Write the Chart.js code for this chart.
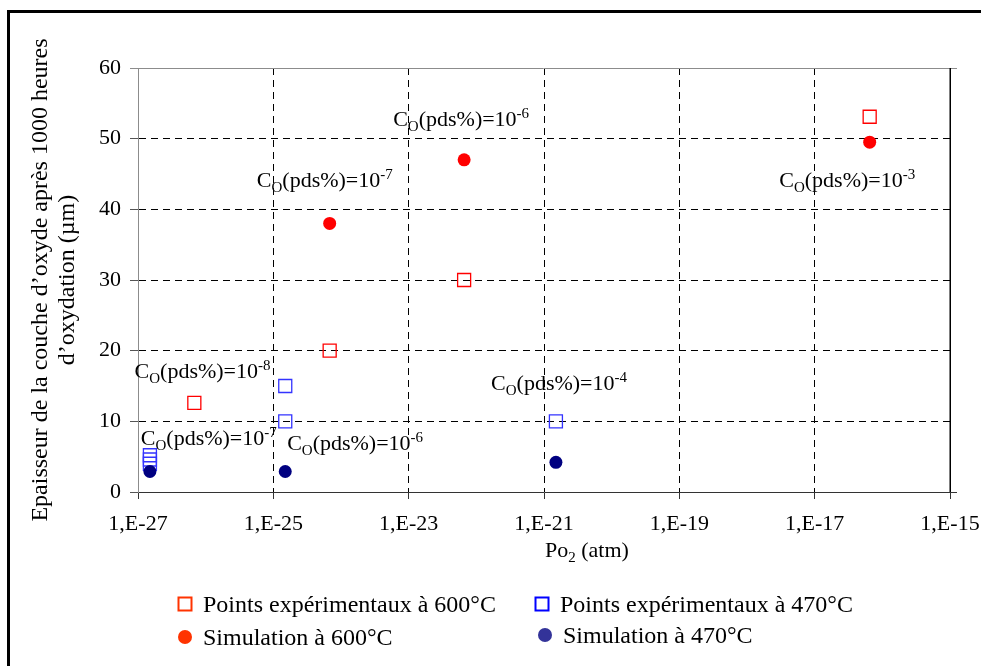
<!DOCTYPE html>
<html>
<head>
<meta charset="utf-8">
<script src="https://cdn.jsdelivr.net/npm/chart.js@4.4.0/dist/chart.umd.min.js"></script>
<style>
  html, body { margin: 0; padding: 0; background: #fff; }
</style>
</head>
<body>
<canvas id="chart" width="981" height="666"></canvas>
<script>
/* ---------- data ---------- */

// x ticks of the log axis (Po2, atm)
const xTicks = [1e-27, 1e-25, 1e-23, 1e-21, 1e-19, 1e-17, 1e-15];

// experimental points at 600 °C
const exp600X = [6.8e-27, 6.8e-25, 6.6e-23, 6.5e-17];
const exp600Y = [12.6, 20, 30, 53.1];

// simulation at 600 °C
const sim600X = [6.8e-25, 6.6e-23, 6.5e-17];
const sim600Y = [38, 47, 49.5];

// experimental points at 470 °C
const exp470X = [1.5e-27, 1.5e-27, 1.5e-27, 1.5e-25, 1.5e-25, 1.5e-21];
const exp470Y = [5.2, 4.6, 4.0, 15, 10, 10];

// simulation at 470 °C
const sim470X = [1.5e-27, 1.5e-25, 1.5e-21];
const sim470Y = [2.9, 2.9, 4.2];

// oxygen content labels: left edge / baseline in data units, exponent
const noteX = [8.9e-28, 1.1e-27, 1.6e-25, 1.65e-22, 5.7e-26, 5.9e-24, 3.0e-18];
const noteY = [16.2, 6.7, 6.0, 14.5, 43.1, 51.8, 43.2];
const noteExp = ['-8', '-7', '-6', '-4', '-7', '-6', '-3'];

/* ---------- helpers ---------- */

const SERIF = '"Liberation Serif", "Times New Roman", serif';

function pts(xs, ys) {
  return xs.map((x, i) => ({ x: x, y: ys[i] }));
}

function drawNote(ctx, x, y, exp) {
  ctx.textAlign = 'left';
  ctx.textBaseline = 'alphabetic';
  ctx.fillStyle = '#000';
  ctx.font = '22px ' + SERIF;
  ctx.fillText('C', x, y);
  x += ctx.measureText('C').width;
  ctx.font = '15px ' + SERIF;
  ctx.fillText('O', x, y + 5);
  x += ctx.measureText('O').width;
  ctx.font = '22px ' + SERIF;
  ctx.fillText('(pds%)=10', x, y);
  x += ctx.measureText('(pds%)=10').width;
  ctx.font = '15px ' + SERIF;
  ctx.fillText(exp, x, y - 8);
}

/* ---------- extra drawing: frame, notes, titles, legend ---------- */

const decorPlugin = {
  id: 'decor',
  afterDraw(chart) {
    const ctx = chart.ctx;
    const a = chart.chartArea;
    const xs = chart.scales.x;
    const ys = chart.scales.y;

    ctx.save();

    // outer frame
    ctx.fillStyle = '#000';
    ctx.fillRect(7, 10, 3, 660);
    ctx.fillRect(7, 10, 980, 3);

    // plot box: gray top, black right
    ctx.lineWidth = 1;
    ctx.strokeStyle = '#8c8c8c';
    ctx.beginPath();
    ctx.moveTo(a.left - 8, Math.round(a.top) + 0.5);
    ctx.lineTo(a.right + 7, Math.round(a.top) + 0.5);
    ctx.stroke();
    ctx.strokeStyle = '#000';
    ctx.lineWidth = 1.5;
    ctx.beginPath();
    ctx.moveTo(Math.round(a.right) + 0.25, a.top);
    ctx.lineTo(Math.round(a.right) + 0.25, a.bottom);
    ctx.stroke();
    ctx.lineWidth = 1;
    ctx.strokeStyle = '#333';
    ctx.beginPath();
    ctx.moveTo(a.right, Math.round(a.bottom) + 0.5);
    ctx.lineTo(a.right + 7, Math.round(a.bottom) + 0.5);
    ctx.stroke();

    // oxygen content notes
    noteX.forEach((nx, i) => {
      drawNote(ctx, xs.getPixelForValue(nx), ys.getPixelForValue(noteY[i]), noteExp[i]);
    });

    // x axis title: Po2 (atm)
    ctx.fillStyle = '#000';
    ctx.textBaseline = 'alphabetic';
    ctx.textAlign = 'left';
    ctx.font = '22px ' + SERIF;
    const wPo = ctx.measureText('Po').width;
    const tx = 545;
    const ty = 557;
    ctx.fillText('Po', tx, ty);
    ctx.font = '15px ' + SERIF;
    const w2 = ctx.measureText('2').width;
    ctx.fillText('2', tx + wPo, ty + 5);
    ctx.font = '22px ' + SERIF;
    ctx.fillText(' (atm)', tx + wPo + w2, ty);

    // y axis title (two lines, rotated)
    ctx.save();
    ctx.translate(0, (a.top + a.bottom) / 2);
    ctx.rotate(-Math.PI / 2);
    ctx.textAlign = 'center';
    ctx.textBaseline = 'middle';
    ctx.font = '24px ' + SERIF;
    ctx.fillText('Epaisseur de la couche d\u2019oxyde apr\u00e8s 1000 heures', 0, 41);
    ctx.fillText('d\u2019oxydation (\u00b5m)', 0, 68);
    ctx.restore();

    // legend
    const items = [
      { x: 185, y: 604, shape: 'square', color: '#ff3300', text: chart.data.datasets[0].label },
      { x: 542, y: 604, shape: 'square', color: '#0000ff', text: chart.data.datasets[2].label },
      { x: 185, y: 637, shape: 'circle', color: '#ff3300', text: chart.data.datasets[1].label },
      { x: 545, y: 635, shape: 'circle', color: '#333399', text: chart.data.datasets[3].label }
    ];
    items.forEach(it => {
      if (it.shape === 'square') {
        ctx.strokeStyle = it.color;
        ctx.lineWidth = 2;
        ctx.strokeRect(it.x - 6.5, it.y - 6.5, 13, 13);
      } else {
        ctx.fillStyle = it.color;
        ctx.beginPath();
        ctx.arc(it.x, it.y, 7, 0, Math.PI * 2);
        ctx.fill();
      }
      ctx.fillStyle = '#000';
      ctx.font = '24px ' + SERIF;
      ctx.textAlign = 'left';
      ctx.textBaseline = 'alphabetic';
      ctx.fillText(it.text, it.x + 18, it.y + 8);
    });

    ctx.restore();
  }
};

/* ---------- chart ---------- */

new Chart(document.getElementById('chart'), {
  type: 'scatter',
  data: {
    datasets: [
      {
        label: 'Points exp\u00e9rimentaux \u00e0 600\u00b0C',
        data: pts(exp600X, exp600Y),
        pointStyle: 'rect',
        radius: 9.2,
        borderColor: '#ff0000',
        backgroundColor: 'rgba(255,255,255,0)',
        borderWidth: 1.3,
        order: 2
      },
      {
        label: 'Simulation \u00e0 600\u00b0C',
        data: pts(sim600X, sim600Y),
        pointStyle: 'circle',
        radius: 6.5,
        borderWidth: 0,
        backgroundColor: '#ff0000',
        order: 1
      },
      {
        label: 'Points exp\u00e9rimentaux \u00e0 470\u00b0C',
        data: pts(exp470X, exp470Y),
        pointStyle: 'rect',
        radius: 9.2,
        borderColor: '#3333ff',
        backgroundColor: 'rgba(255,255,255,0)',
        borderWidth: 1.3,
        order: 2
      },
      {
        label: 'Simulation \u00e0 470\u00b0C',
        data: pts(sim470X, sim470Y),
        pointStyle: 'circle',
        radius: 6.5,
        borderWidth: 0,
        backgroundColor: '#000080',
        order: 1
      }
    ]
  },
  options: {
    responsive: false,
    animation: false,
    events: [],
    layout: { padding: { top: 68, right: 31, left: 0, bottom: 0 } },
    plugins: {
      legend: { display: false },
      tooltip: { enabled: false },
      title: { display: false }
    },
    scales: {
      x: {
        type: 'logarithmic',
        min: 1e-27,
        max: 1e-15,
        afterBuildTicks: s => { s.ticks = xTicks.map(v => ({ value: v })); },
        afterFit: s => { s.height = 174; s.paddingLeft = 0; s.paddingRight = 0; },
        ticks: {
          color: '#000',
          font: { family: SERIF, size: 22 },
          padding: 12,
          maxRotation: 0,
          autoSkip: false,
          callback: v => '1,E' + Math.round(Math.log10(v))
        },
        grid: { color: '#000', lineWidth: 1, tickLength: 7, tickColor: '#333' },
        border: { color: '#333', width: 1, dash: [7, 5] }
      },
      y: {
        min: 0,
        max: 60,
        afterFit: s => { s.width = 138; s.paddingTop = 0; s.paddingBottom = 0; },
        ticks: {
          stepSize: 10,
          color: '#000',
          font: { family: SERIF, size: 22 },
          padding: 9
        },
        grid: { color: '#000', lineWidth: 1, tickLength: 8, tickColor: '#555' },
        border: { color: '#8c8c8c', width: 1, dash: [7, 5] }
      }
    }
  },
  plugins: [decorPlugin]
});
</script>
</body>
</html>
